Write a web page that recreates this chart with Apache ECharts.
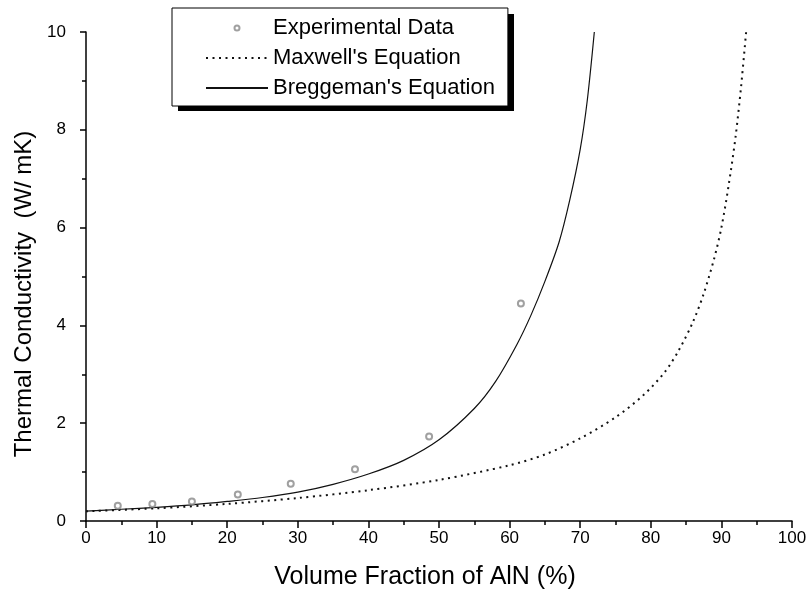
<!DOCTYPE html>
<html>
<head>
    <meta charset="utf-8">
    <script src="https://cdn.jsdelivr.net/npm/echarts@6/dist/echarts.min.js"></script>
</head>
<body style="margin:0;background:#fff;">
<div id="main" style="width: 806px;height:599px;"></div>
</body>
<script>
    // measured points (volume fraction %, conductivity W/mK)
    var expX = [4.5, 9.4, 15.0, 21.5, 29.0, 38.1, 48.6, 61.6];
    var expY = [0.31, 0.35, 0.40, 0.54, 0.76, 1.06, 1.73, 4.45];

    // curves
    var brugX = [0, 5, 10, 15, 20, 25, 30, 35, 40, 45, 50, 55, 58, 61, 63, 65, 67, 68.5, 70, 71, 72];
    var brugY = [0.20, 0.24, 0.28, 0.33, 0.40, 0.48, 0.59, 0.75, 0.96, 1.24, 1.66, 2.30, 2.85, 3.60, 4.20, 4.90, 5.70, 6.55, 7.60, 8.60, 10.0];

    var maxwX = [0, 10, 20, 30, 40, 50, 60, 65, 70, 75, 79, 82, 84, 86, 87.5, 89, 90, 91, 92, 92.8, 93.5];
    var maxwY = [0.20, 0.26, 0.35, 0.47, 0.63, 0.84, 1.14, 1.36, 1.69, 2.12, 2.58, 3.05, 3.50, 4.08, 4.65, 5.38, 6.00, 6.84, 7.85, 8.90, 10.0];

    var xTicks = [0, 100, 10];
    var yTicks = [0, 10, 2];

    function pairs(xs, ys) {
        return xs.map(function (x, i) { return [x, ys[i]]; });
    }

    var font = 'Liberation Sans, Arial, sans-serif';
    var hidden = { color: 'rgba(0,0,0,0)', borderColor: 'rgba(0,0,0,0)', borderWidth: 0 };
    var myChart = echarts.init(document.getElementById('main'));

    var option = {
        animation: false,
        backgroundColor: '#fff',
        grid: {
            left: 86, right: 14, top: 32, bottom: 78,
            outerBoundsMode: 'none'
        },
        // heavy drop shadow behind the legend box
        graphic: [{
            type: 'rect',
            left: 178, top: 14, z: 0,
            shape: { width: 336, height: 97 },
            style: { fill: '#000' }
        }],
        legend: {
            orient: 'vertical',
            left: 172,
            top: 8,
            z: 10,
            padding: [9, 13, 7, 33],
            itemWidth: 62,
            itemHeight: 5,
            itemGap: 8,
            backgroundColor: '#fff',
            borderColor: '#000',
            borderWidth: 1,
            textStyle: { fontFamily: font, fontSize: 22, color: '#000' },
            data: [
                { name: 'Experimental Data' },
                { name: "Maxwell's Equation", itemStyle: hidden },
                { name: "Breggeman's Equation", itemStyle: hidden }
            ]
        },
        xAxis: {
            type: 'value',
            min: xTicks[0], max: xTicks[1], interval: xTicks[2],
            name: 'Volume Fraction of AlN (%)',
            nameLocation: 'middle',
            nameGap: 44,
            nameTextStyle: { fontFamily: font, fontSize: 25, color: '#000', padding: [0, 28, 0, 0] },
            axisLine: { lineStyle: { color: '#000', width: 1.5 } },
            axisTick: { length: 7, lineStyle: { color: '#000', width: 1.5 } },
            minorTick: { show: true, splitNumber: 2, length: 4, lineStyle: { color: '#000', width: 1.5 } },
            axisLabel: { fontFamily: font, fontSize: 17, color: '#000', margin: 9 },
            splitLine: { show: false }
        },
        yAxis: {
            type: 'value',
            min: yTicks[0], max: yTicks[1], interval: yTicks[2],
            name: 'Thermal Conductivity  (W/ mK)',
            nameLocation: 'middle',
            nameGap: 49,
            nameTextStyle: { fontFamily: font, fontSize: 24, color: '#000', padding: [0, 35, 0, 0] },
            axisLine: { lineStyle: { color: '#000', width: 1.5 } },
            axisTick: { length: 6, lineStyle: { color: '#000', width: 1.5 } },
            minorTick: { show: true, splitNumber: 2, length: 4, lineStyle: { color: '#000', width: 1.5 } },
            axisLabel: { fontFamily: font, fontSize: 17, color: '#000', margin: 20 },
            splitLine: { show: false }
        },
        series: [
            {
                name: 'Experimental Data',
                type: 'scatter',
                symbol: 'emptyCircle',
                symbolSize: 6,
                itemStyle: { color: '#888', borderWidth: 1 },
                data: pairs(expX, expY),
                z: 3
            },
            {
                name: "Maxwell's Equation",
                type: 'line',
                symbol: 'none',
                smooth: 0.3,
                lineStyle: { color: '#111', width: 2, type: [2, 4.5] },
                itemStyle: { color: '#111' },
                data: pairs(maxwX, maxwY)
            },
            {
                name: "Breggeman's Equation",
                type: 'line',
                symbol: 'none',
                smooth: 0.3,
                lineStyle: { color: '#111', width: 1.2 },
                itemStyle: { color: '#111' },
                data: pairs(brugX, brugY)
            }
        ]
    };
    myChart.setOption(option);
</script>
</html>
